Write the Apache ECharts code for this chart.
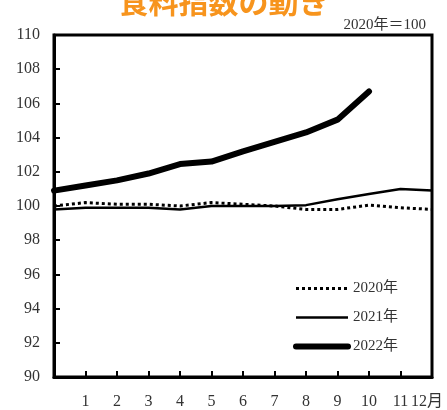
<!DOCTYPE html>
<html>
<head>
<meta charset="utf-8">
<script src="https://cdn.jsdelivr.net/npm/echarts@6/dist/echarts.min.js"></script>
<style>
  html, body { margin: 0; padding: 0; background: #fff; }
  #chart { width: 447px; height: 410px; }
</style>
</head>
<body>
<div id="chart"></div>
<script>
// months 0..12 (0 = left edge of the frame)
const months = [0, 1, 2, 3, 4, 5, 6, 7, 8, 9, 10, 11, 12]
const y2020 = [100.0, 100.2, 100.1, 100.1, 100.0, 100.2, 100.1, 100.0, 99.8, 99.8, 100.05, 99.9, 99.8]
const y2021 = [99.8, 99.9, 99.9, 99.9, 99.8, 100.0, 100.0, 100.0, 100.05, 100.4, 100.7, 101.0, 100.9]
const y2022 = [100.9, 101.2, 101.5, 101.9, 102.45, 102.6, 103.2, 103.75, 104.3, 105.05, 106.7]
const seriesNames = ['2020年', '2021年', '2022年']

const serif = '"Liberation Serif", "DejaVu Serif", "Noto Sans CJK JP", serif'

const pairs = (ys) => ys.map((v, i) => [months[i], v])

const chart = echarts.init(document.getElementById('chart'))

chart.setOption({
  animation: false,
  backgroundColor: '#fff',
  title: [{
    text: '食料指数の動き',
    left: 'center',
    top: -18,
    textStyle: {
      color: '#f7941d',
      fontSize: 30,
      fontWeight: 'bold',
      fontFamily: '"Noto Sans CJK JP", sans-serif'
    }
  }, {
    text: '2020年＝100',
    right: 16,
    top: 13,
    textStyle: {
      color: '#333',
      fontSize: 15,
      fontWeight: 'normal',
      fontFamily: serif
    }
  }],
  legend: {
    orient: 'vertical',
    left: 288,
    top: 276,
    itemWidth: 52,
    itemHeight: 14,
    itemGap: 14,
    itemStyle: { opacity: 0 },
    data: [
      { name: seriesNames[0], lineStyle: { width: 3, type: [3, 3] } },
      { name: seriesNames[1], lineStyle: { width: 2.5 } },
      { name: seriesNames[2], lineStyle: { width: 6 } }
    ],
    textStyle: { fontSize: 15, color: '#333', fontFamily: serif }
  },
  grid: {
    left: 54, right: 15, top: 35, bottom: 30,
    show: true, borderColor: '#000', borderWidth: 3
  },
  xAxis: {
    type: 'value',
    min: 0, max: 12, interval: 1,
    axisLine: { show: true, lineStyle: { color: '#000', width: 3 } },
    axisTick: { inside: true, length: 6, lineStyle: { color: '#000', width: 2 } },
    splitLine: { show: false },
    axisLabel: {
      margin: 17,
      color: '#333',
      fontSize: 16,
      fontFamily: serif,
      formatter: (v) => v === 0 ? '' : (v === 12 ? '{m|12月}' : String(v)),
      rich: { m: { fontSize: 16, fontFamily: serif, color: '#333', padding: [0, 10, 0, 0] } }
    }
  },
  yAxis: {
    type: 'value',
    min: 90, max: 110, interval: 2,
    axisLine: { show: true, lineStyle: { color: '#000', width: 3 } },
    axisTick: { inside: true, length: 6, lineStyle: { color: '#000', width: 2 } },
    splitLine: { show: false },
    axisLabel: { margin: 14, color: '#333', fontSize: 16, fontFamily: serif }
  },
  series: [{
    name: seriesNames[0],
    type: 'line',
    data: pairs(y2020),
    symbol: 'none',
    lineStyle: { color: '#000', width: 3, type: [3, 3] },
    itemStyle: { color: '#000' }
  }, {
    name: seriesNames[1],
    type: 'line',
    data: pairs(y2021),
    symbol: 'none',
    lineStyle: { color: '#000', width: 2.5 },
    itemStyle: { color: '#000' }
  }, {
    name: seriesNames[2],
    type: 'line',
    data: pairs(y2022),
    symbol: 'none',
    lineStyle: { color: '#000', width: 6, cap: 'round', join: 'round' },
    itemStyle: { color: '#000' }
  }]
})
</script>
</body>
</html>
